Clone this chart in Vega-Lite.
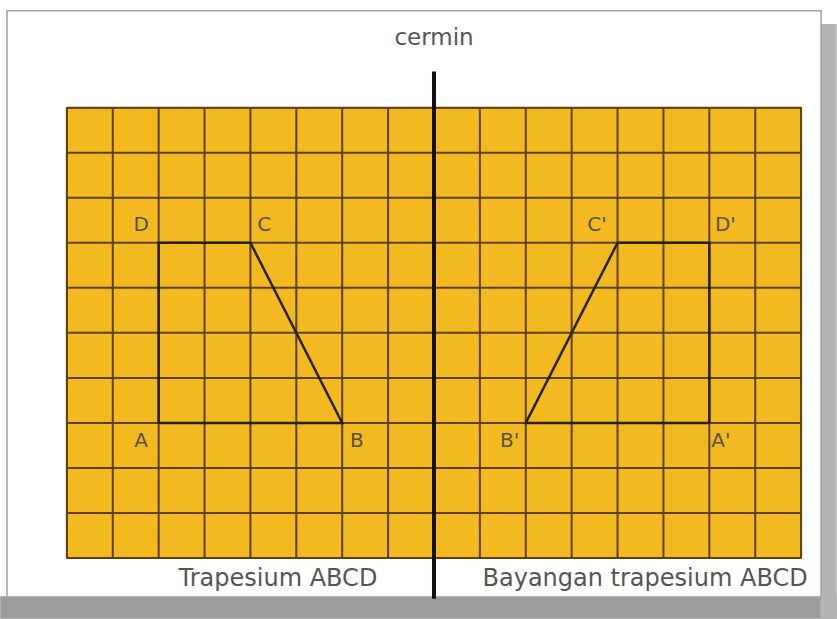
{
  "$schema": "https://vega.github.io/schema/vega-lite/v6.json",
  "width": 837,
  "height": 619,
  "autosize": {"type": "fit", "contains": "padding"},
  "padding": 0,
  "background": "#ffffff",
  "config": {"view": {"stroke": null}, "font": "DejaVu Sans"},
  "datasets": {
    "panels": [
      {"part": "shadowB", "x": -1.435, "x2": 16.76, "y": -1.33, "y2": -0.865},
      {"part": "shadowR", "x": 16.435, "x2": 16.76, "y": -1.33, "y2": 11.84},
      {"part": "frame", "x": -1.304, "x2": 16.435, "y": -0.865, "y2": 12.15},
      {"part": "board", "x": 0, "x2": 16, "y": 0, "y2": 10}
    ],
    "grid": [
      {"x": 0, "x2": 0, "y": 0, "y2": 10},
      {"x": 1, "x2": 1, "y": 0, "y2": 10},
      {"x": 2, "x2": 2, "y": 0, "y2": 10},
      {"x": 3, "x2": 3, "y": 0, "y2": 10},
      {"x": 4, "x2": 4, "y": 0, "y2": 10},
      {"x": 5, "x2": 5, "y": 0, "y2": 10},
      {"x": 6, "x2": 6, "y": 0, "y2": 10},
      {"x": 7, "x2": 7, "y": 0, "y2": 10},
      {"x": 8, "x2": 8, "y": 0, "y2": 10},
      {"x": 9, "x2": 9, "y": 0, "y2": 10},
      {"x": 10, "x2": 10, "y": 0, "y2": 10},
      {"x": 11, "x2": 11, "y": 0, "y2": 10},
      {"x": 12, "x2": 12, "y": 0, "y2": 10},
      {"x": 13, "x2": 13, "y": 0, "y2": 10},
      {"x": 14, "x2": 14, "y": 0, "y2": 10},
      {"x": 15, "x2": 15, "y": 0, "y2": 10},
      {"x": 16, "x2": 16, "y": 0, "y2": 10},
      {"x": 0, "x2": 16, "y": 0, "y2": 0},
      {"x": 0, "x2": 16, "y": 1, "y2": 1},
      {"x": 0, "x2": 16, "y": 2, "y2": 2},
      {"x": 0, "x2": 16, "y": 3, "y2": 3},
      {"x": 0, "x2": 16, "y": 4, "y2": 4},
      {"x": 0, "x2": 16, "y": 5, "y2": 5},
      {"x": 0, "x2": 16, "y": 6, "y2": 6},
      {"x": 0, "x2": 16, "y": 7, "y2": 7},
      {"x": 0, "x2": 16, "y": 8, "y2": 8},
      {"x": 0, "x2": 16, "y": 9, "y2": 9},
      {"x": 0, "x2": 16, "y": 10, "y2": 10}
    ],
    "shapes": [
      {"shape": "ABCD", "i": 0, "x": 2, "y": 3},
      {"shape": "ABCD", "i": 1, "x": 6, "y": 3},
      {"shape": "ABCD", "i": 2, "x": 4, "y": 7},
      {"shape": "ABCD", "i": 3, "x": 2, "y": 7},
      {"shape": "ABCD", "i": 4, "x": 2, "y": 3},
      {"shape": "A'B'C'D'", "i": 0, "x": 14, "y": 3},
      {"shape": "A'B'C'D'", "i": 1, "x": 10, "y": 3},
      {"shape": "A'B'C'D'", "i": 2, "x": 12, "y": 7},
      {"shape": "A'B'C'D'", "i": 3, "x": 14, "y": 7},
      {"shape": "A'B'C'D'", "i": 4, "x": 14, "y": 3}
    ],
    "points": [
      {"label": "A", "x": 1.62, "y": 2.6},
      {"label": "B", "x": 6.32, "y": 2.6},
      {"label": "C", "x": 4.3, "y": 7.4},
      {"label": "D", "x": 1.62, "y": 7.4},
      {"label": "A'", "x": 14.25, "y": 2.6},
      {"label": "B'", "x": 9.65, "y": 2.6},
      {"label": "C'", "x": 11.55, "y": 7.4},
      {"label": "D'", "x": 14.35, "y": 7.4}
    ],
    "captions": [
      {"text": "cermin", "x": 8, "y": 11.55, "size": "small"},
      {"text": "Trapesium ABCD", "x": 4.6, "y": -0.47, "size": "big"},
      {"text": "Bayangan trapesium ABCD", "x": 12.6, "y": -0.47, "size": "big"}
    ],
    "mirror": [{"x": 8, "y": -0.9, "y2": 10.8}]
  },
  "layer": [
    {
      "data": {"name": "panels"},
      "mark": {"type": "rect", "strokeWidth": 1.5},
      "encoding": {
        "x": {"field": "x", "type": "quantitative", "scale": {"domain": [-1.435, 16.76], "nice": false, "zero": false}, "axis": null},
        "x2": {"field": "x2"},
        "y": {"field": "y", "type": "quantitative", "scale": {"domain": [-1.33, 12.39], "nice": false, "zero": false}, "axis": null},
        "y2": {"field": "y2"},
        "fill": {"field": "part", "type": "nominal", "scale": {"domain": ["shadowB", "shadowR", "frame", "board"], "range": ["#9c9c9c", "#b5b5b5", "#ffffff", "#F2B920"]}, "legend": null},
        "stroke": {"field": "part", "type": "nominal", "scale": {"domain": ["shadowB", "shadowR", "frame", "board"], "range": ["#9c9c9c", "#b5b5b5", "#a0a0a0", "#5e4010"]}, "legend": null}
      }
    },
    {
      "data": {"name": "grid"},
      "mark": {"type": "rule", "color": "#5e4010", "strokeWidth": 2},
      "encoding": {
        "x": {"field": "x", "type": "quantitative"},
        "x2": {"field": "x2"},
        "y": {"field": "y", "type": "quantitative"},
        "y2": {"field": "y2"}
      }
    },
    {
      "data": {"name": "shapes"},
      "mark": {"type": "line", "color": "#2a200c", "strokeWidth": 2.5},
      "encoding": {
        "x": {"field": "x", "type": "quantitative"},
        "y": {"field": "y", "type": "quantitative"},
        "detail": {"field": "shape"},
        "order": {"field": "i"}
      }
    },
    {
      "data": {"name": "mirror"},
      "mark": {"type": "rule", "color": "#111111", "strokeWidth": 4},
      "encoding": {
        "x": {"field": "x", "type": "quantitative"},
        "y": {"field": "y", "type": "quantitative"},
        "y2": {"field": "y2"}
      }
    },
    {
      "data": {"name": "points"},
      "mark": {"type": "text", "fontSize": 20, "color": "#5a5040", "align": "center", "baseline": "middle"},
      "encoding": {
        "x": {"field": "x", "type": "quantitative"},
        "y": {"field": "y", "type": "quantitative"},
        "text": {"field": "label"}
      }
    },
    {
      "data": {"name": "captions"},
      "mark": {"type": "text", "color": "#555555", "align": "center", "baseline": "middle"},
      "encoding": {
        "x": {"field": "x", "type": "quantitative"},
        "y": {"field": "y", "type": "quantitative"},
        "text": {"field": "text"},
        "size": {"field": "size", "type": "nominal", "scale": {"domain": ["small", "big"], "range": [23, 24]}, "legend": null}
      }
    }
  ]
}
